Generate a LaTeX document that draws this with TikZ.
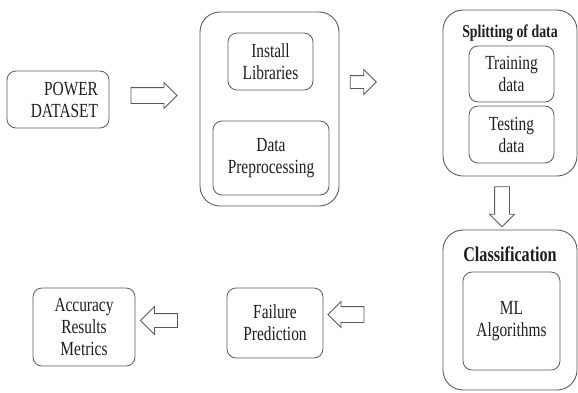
\documentclass[tikz,border=0pt]{standalone}
\usepackage{fontspec}
\setmainfont{Liberation Serif}[FakeStretch=0.77]
\usepackage{xcolor}
\usepackage{tikz}
\usetikzlibrary{shapes.arrows}

\definecolor{edge}{HTML}{5A5A5A}
\definecolor{ink}{HTML}{1E1E1E}

\begin{document}
\begin{tikzpicture}[
    x=1pt, y=-1pt,
    outer/.style={
        rectangle, draw=edge, line width=0.9pt, rounded corners=20pt,
        minimum width=#1,
    },
    box/.style={
        rectangle, draw=edge, line width=0.8pt, rounded corners=9pt,
        align=center, text=ink, inner sep=2pt,
        font=\fontsize{20}{22}\selectfont,
    },
    title/.style={font=\fontsize{#1}{#1}\selectfont\bfseries, text=ink},
    blockarr/.style={
        single arrow, draw=edge, line width=0.8pt, fill=white,
        inner xsep=0pt, single arrow head extend=5pt,
    },
]
\useasboundingbox (0,0) rectangle (578,392);

% Input data
\node[box, minimum width=102pt, minimum height=57pt, text width=80pt, align=right] (data) at (58,99.5) {POWER\\DATASET};

% Preparation
\node[outer=139pt, minimum height=194pt] (prep) at (269.5,109) {};
\node[box, minimum width=85pt, minimum height=57pt] (inst) at (270.5,61.5) {Install\\Libraries};
\node[box, minimum width=116pt, minimum height=74pt] (pre) at (271,158) {Data\\Preprocessing};

% Splitting of data
\node[outer=134pt, minimum height=166pt] (split) at (510,93) {};
\node[title=18] (splitlbl) at (510,33) {Splitting of data};
\node[box, minimum width=85pt, minimum height=56pt] (train) at (511.5,74) {Training\\data};
\node[box, minimum width=85pt, minimum height=57pt] (test) at (511.5,134.5) {Testing\\data};

% Classification
\node[outer=134pt, minimum height=160pt] (cls) at (510,310) {};
\node[title=21] (clslbl) at (510,254) {Classification};
\node[box, minimum width=97pt, minimum height=98pt] (ml) at (511.5,321) {ML\\Algorithms};

% Output
\node[box, minimum width=96pt, minimum height=70pt] (fail) at (275,323) {Failure\\Prediction};
\node[box, minimum width=102pt, minimum height=78pt] (acc) at (84,327) {Accuracy\\Results\\Metrics};

% Arrows between stages
\node[blockarr, inner ysep=7.5pt, minimum height=46pt] (a1) at (150,95.5) {};
\node[blockarr, inner ysep=6pt, single arrow head extend=6pt, minimum height=26pt] (a2) at (360,82) {};
\node[blockarr, inner ysep=7pt, minimum height=40pt, rotate=-90] (a3) at (502,203) {};
\node[blockarr, inner ysep=7.5pt, minimum height=36pt, rotate=180] (a4) at (350,314.5) {};
\node[blockarr, inner ysep=6.5pt, single arrow head extend=7pt, minimum height=37pt, rotate=180] (a5) at (162.5,320.5) {};

\end{tikzpicture}
\end{document}
